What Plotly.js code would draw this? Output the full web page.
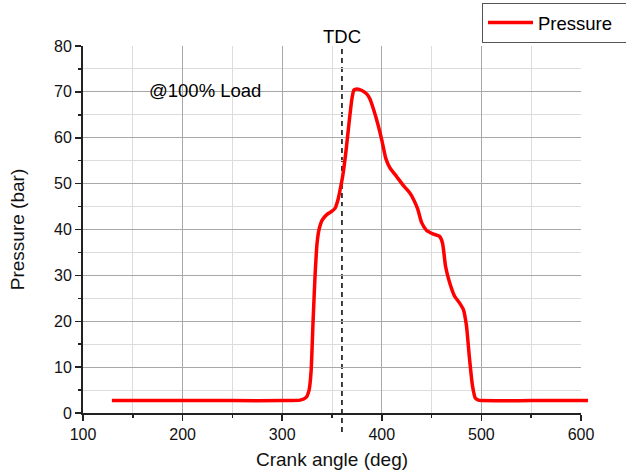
<!DOCTYPE html>
<html>
<head>
<meta charset="utf-8">
<script src="https://cdn.plot.ly/plotly-3.0.1.min.js"></script>
<style>html,body{margin:0;padding:0;background:#fff;}#chart{width:626px;height:474px;}</style>
</head>
<body>
<div id="chart"></div>
<script>
// Crank angle (deg) and cylinder pressure (bar)
const crankAngle = [129, 160, 200, 250, 300, 318, 324, 327, 329, 331, 333, 335, 337, 340, 345, 350, 353, 356, 358, 361, 364, 367, 370, 372, 375, 380, 385, 388, 392, 396, 400, 404, 408, 415, 422, 428, 432, 436, 440, 445, 452, 458, 461, 464, 468, 473, 478, 482, 485, 488, 491, 494, 497, 500, 550, 607];
const pressure   = [2.7, 2.7, 2.7, 2.7, 2.7, 2.8, 3.4, 5, 9, 20, 30, 37, 40, 42, 43.3, 44, 44.6, 46.5, 48.5, 52, 57, 63, 68.5, 70.4, 70.6, 70.3, 69.5, 68.5, 66, 63, 59.5, 55.5, 53.5, 51.5, 49.5, 48, 46.5, 44.5, 41.5, 39.8, 39, 38.5, 37, 32, 28.5, 25.5, 24, 22.5, 19, 12, 6, 3.2, 2.8, 2.7, 2.7, 2.7];
const seriesName = "Pressure";
const tdcAngle = 360;
const loadLabel = "@100% Load";
const tdcLabel = "TDC";
const xTitle = "Crank angle (deg)";
const yTitle = "Pressure (bar)";
// interior grid lines (none on the frame edges, as in the reference)
const xGridMajor = [200, 300, 400, 500];
const xGridMinor = [150, 250, 350, 450, 550];
const yGridMajor = [10, 20, 30, 40, 50, 60, 70];
const yGridMinor = [5, 15, 25, 35, 45, 55, 65, 75];

const FONT = "Liberation Sans, Arial, sans-serif";
const xMin = 100, xMax = 600, yMin = 0, yMax = 80;
const plotW = 626 - 83 - 37;            // full drawing width incl. overhang
const axisW = 498;                      // width of the 100..600 axis
const xMaxExt = xMin + (xMax - xMin) * plotW / axisW;
const GMAJ = "#a8a8a8", GMIN = "#dcdcdc";

const trace = {
  x: crankAngle, y: pressure, name: seriesName,
  type: "scatter", mode: "lines",
  xaxis: "x2", yaxis: "y2",
  line: {color: "#ff0000", width: 3.5, shape: "spline", smoothing: 0.5}
};
const gridHolder = {x: [], y: [], type: "scatter", mode: "lines", xaxis: "x3", yaxis: "y3",
  showlegend: false, hoverinfo: "skip"};

const layout = {
  width: 626, height: 474,
  margin: {l: 83, r: 37, t: 46, b: 61, autoexpand: false},
  paper_bgcolor: "#ffffff",
  plot_bgcolor: "rgba(0,0,0,0)",
  font: {family: FONT, size: 16, color: "#000"},
  showlegend: true,
  legend: {
    x: (482 - 83) / plotW, y: (367 + 43) / 367, xanchor: "left", yanchor: "top",
    orientation: "h", entrywidth: 160,
    bgcolor: "#fff", bordercolor: "#555", borderwidth: 1,
    font: {family: FONT, size: 18.5, color: "#000"}, itemwidth: 45
  },
  xaxis: {
    domain: [0, axisW / plotW], range: [xMin, xMax], anchor: "y",
    dtick: 100, tick0: 0, ticks: "outside", ticklen: 6, tickwidth: 1.5, tickcolor: "#222",
    showline: true, linecolor: "#222", linewidth: 2,
    showgrid: false, zeroline: false,
    minor: {dtick: 50, tick0: 0, ticks: "outside", ticklen: 3, tickcolor: "#222", showgrid: false},
    tickfont: {family: FONT, size: 16, color: "#111"},
    title: {text: xTitle, font: {family: FONT, size: 19, color: "#111"}, standoff: 10}
  },
  yaxis: {
    range: [yMin, yMax], anchor: "x",
    dtick: 10, tick0: 0, ticks: "outside", ticklen: 6, tickwidth: 1.5, tickcolor: "#222",
    showline: true, linecolor: "#222", linewidth: 2,
    showgrid: false, zeroline: false,
    minor: {dtick: 5, tick0: 0, ticks: "outside", ticklen: 3, tickcolor: "#222", showgrid: false},
    tickfont: {family: FONT, size: 16, color: "#111"},
    title: {text: yTitle, font: {family: FONT, size: 19, color: "#111"}, standoff: 24}
  },
  xaxis3: {
    overlaying: "x", anchor: "y3", range: [xMin, xMax],
    tickmode: "array", tickvals: xGridMajor, showticklabels: false, ticks: "",
    showline: false, zeroline: false, showgrid: true, gridcolor: GMAJ, gridwidth: 1,
    minor: {tickmode: "array", tickvals: xGridMinor, ticks: "", showgrid: true, gridcolor: GMIN, gridwidth: 1}
  },
  yaxis3: {
    overlaying: "y", anchor: "x3", range: [yMin, yMax],
    tickmode: "array", tickvals: yGridMajor, showticklabels: false, ticks: "",
    showline: false, zeroline: false, showgrid: true, gridcolor: GMAJ, gridwidth: 1,
    minor: {tickmode: "array", tickvals: yGridMinor, ticks: "", showgrid: true, gridcolor: GMIN, gridwidth: 1}
  },
  xaxis2: {domain: [0, 1], range: [xMin, xMaxExt], anchor: "y2", visible: false},
  yaxis2: {domain: [0, 1], range: [yMin, yMax], anchor: "x2", visible: false},
  shapes: [{
    type: "line", xref: "x", yref: "paper",
    x0: tdcAngle, x1: tdcAngle, y0: -0.052, y1: 1,
    line: {color: "#000", width: 1.5, dash: "5px,4px"}, layer: "below"
  }],
  annotations: [
    {xref: "x", yref: "y", x: 222, y: 70.2, text: loadLabel, showarrow: false,
     font: {family: FONT, size: 18.5, color: "#000"}},
    {xref: "x", yref: "paper", x: tdcAngle, y: (413 - 37) / 367, yanchor: "middle", text: tdcLabel, showarrow: false,
     font: {family: FONT, size: 18.5, color: "#000"}}
  ]
};

Plotly.newPlot("chart", [gridHolder, trace], layout, {displayModeBar: false, staticPlot: true});
</script>
</body>
</html>
